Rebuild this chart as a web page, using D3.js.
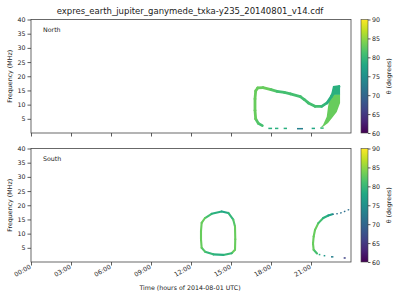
<!DOCTYPE html>
<html><head><meta charset="utf-8">
<script src="https://cdn.jsdelivr.net/npm/d3@7"></script>
<style>body{margin:0;background:#fff}svg{display:block}text{font-family:"DejaVu Sans",sans-serif;fill:#222}</style>
</head><body><svg id="c" width="400" height="300"></svg>
<script>
// ---- data ----
const title = "expres_earth_jupiter_ganymede_txka-y235_20140801_v14.cdf";
const xTickHours = [0,3,6,9,12,15,18,21];
const xTickLabels = ["00:00","03:00","06:00","09:00","12:00","15:00","18:00","21:00"];
const yTicks = [5,10,15,20,25,30,35,40];
const cbTicks = [60,65,70,75,80,85,90];

// North: main emission curve [hour, MHz, theta]
const northCurve = [
 [17.35,2.6,81],[17.05,3.4,82],[16.85,5.0,83],[16.8,8,83],[16.8,12,83],[16.85,14.8,83],
 [17.0,15.9,83],[17.4,16.0,83],[18.0,15.3,82],[18.45,14.7,81],[19.0,14.3,81],[19.45,13.8,81],
 [20.2,12.8,81],[20.5,11.8,81],[20.8,10.6,81],[21.3,9.4,81],[21.8,9.4,80],[22.2,10.6,79],
 [22.55,13.0,79],[22.9,15.5,79],[23.1,16.3,79]];
// North: thick crescent (upper teal part, lower green part)
const northWedgeTop = [[22.65,16.6],[23.18,16.9],[23.18,13.5],[22.5,13.5]];
const northWedgeBottom = [[22.48,13.7],[23.18,13.7],[23.18,10.6],[22.93,7.4],[22.65,5.75],[22.28,3.5],[21.9,2.2],[21.68,1.8],[21.9,2.8],[22.18,5.75],[22.28,9.3],[22.4,12.2]];
const northWedgeTheta = [79, 83];
// North: short low-frequency fragments [start h, end h, MHz, theta]
const northDashes = [[17.8,18.08,1.6,79],[18.3,18.55,1.6,79],[18.95,19.2,1.6,79],[19.95,20.4,1.5,73],[21.05,21.3,1.6,78],[21.7,21.95,1.7,80]];

// South: closed loop [hour, MHz, theta]
const southLoop = [
 [13.05,15.5,81],[13.55,17.0,79],[14.3,17.8,78],[14.8,17.3,80],[15.17,14.9,82],[15.3,12.5,83],
 [15.32,8,83],[15.3,4.3,83],[15.05,3.1,80],[14.42,2.5,79],[13.67,2.7,80],[13.05,3.65,82],
 [12.8,5,83],[12.75,8,83],[12.75,11,83],[12.8,13.8,83],[13.05,15.5,82]];
// South: late-day arc (solid part then dotted part)
const southArc = [[21.45,3.0,81],[21.2,4.3,83],[21.15,6.5,83],[21.2,9,83],[21.3,11.3,83],[21.55,13.7,81],[21.92,15.5,79],[22.3,16.4,77],[22.6,16.8,75]];
const southArcDotted = [[22.6,16.8],[22.93,17.0],[23.42,17.6],[23.95,18.7]];
const southArcDottedTheta = 71;
const southDashes = [[21.58,21.7,2.6,79],[21.95,22.07,2.2,76],[22.5,22.68,1.8,73],[23.45,23.6,1.4,66]];

// ---- drawing ----
const svg = d3.select("#c");
const x = d3.scaleLinear([0,24],[31,351]);
const panels = [
 {name:"North", y: d3.scaleLinear([0,40],[133,19.5]), labels:false},
 {name:"South", y: d3.scaleLinear([0,40],[262,148.5]), labels:true}
];
const cscale = d3.scaleSequential(d3.interpolateViridis).domain([60,90]);

svg.append("text").attr("x",190).attr("y",14).attr("text-anchor","middle").attr("font-size",8.5).text(title);

panels.forEach((p,i)=>{
  const y = p.y;
  const g = svg.append("g");
  const clip = "clip"+i;
  svg.append("clipPath").attr("id",clip).append("rect")
    .attr("x",x(0)).attr("y",y(40)).attr("width",x(24)-x(0)).attr("height",y(0)-y(40));
  const data = g.append("g").attr("clip-path",`url(#${clip})`);

  const segs = (pts, sw) => {
    for(let k=0;k<pts.length-1;k++){
      data.append("line").attr("x1",x(pts[k][0])).attr("y1",y(pts[k][1]))
        .attr("x2",x(pts[k+1][0])).attr("y2",y(pts[k+1][1]))
        .attr("stroke",cscale(pts[k][2])).attr("stroke-width",sw).attr("stroke-linecap","round");
    }
  };
  const dashes = (arr) => arr.forEach(d=>{
    data.append("rect").attr("x",x(d[0])).attr("y",y(d[2])-0.8).attr("width",x(d[1])-x(d[0])).attr("height",1.5).attr("fill",cscale(d[3]));
  });
  const poly = d3.line().x(d=>x(d[0])).y(d=>y(d[1])).curve(d3.curveLinearClosed);
  const line = d3.line().x(d=>x(d[0])).y(d=>y(d[1])).curve(d3.curveCatmullRom);

  if(i===0){
    data.append("path").attr("d",poly(northWedgeBottom)).attr("fill",cscale(northWedgeTheta[1]));
    data.append("path").attr("d",poly(northWedgeTop)).attr("fill",cscale(northWedgeTheta[0]));
    segs(northCurve,2.8);
    dashes(northDashes);
  } else {
    segs(southLoop,2.1);
    segs(southArc,2.1);
    data.append("path").attr("d",line(southArcDotted)).attr("fill","none")
      .attr("stroke",cscale(southArcDottedTheta)).attr("stroke-width",1.3).attr("stroke-dasharray","1.6,2.4");
    dashes(southDashes);
  }

  // axes
  const ya = g.append("g").attr("transform",`translate(${x(0)},0)`)
    .call(d3.axisLeft(y).tickValues(yTicks).tickSize(3.5).tickPadding(2));
  const xa = g.append("g").attr("transform",`translate(0,${y(0)})`)
    .call(d3.axisBottom(x).tickValues(xTickHours).tickSize(3.5).tickFormat((d,k)=>p.labels?xTickLabels[k]:""));
  [ya,xa].forEach(a=>{a.select(".domain").remove();a.selectAll("line").attr("stroke","#333").attr("stroke-width",0.8);a.selectAll("text").attr("font-size",6.3).attr("fill","#222");});
  if(p.labels){
    xa.selectAll("text").attr("text-anchor","end").attr("dy",0)
      .attr("transform","translate(0,6) rotate(-30)").attr("y",0).attr("x",0);
  }
  g.append("rect").attr("x",x(0)).attr("y",y(40)).attr("width",x(24)-x(0)).attr("height",y(0)-y(40))
    .attr("fill","none").attr("stroke","#444").attr("stroke-width",0.8);
  g.append("text").attr("x",43).attr("y",y(40)+12).attr("font-size",6.3).text(p.name);
  g.append("text").attr("transform",`translate(12,${(y(0)+y(40))/2}) rotate(-90)`).attr("text-anchor","middle").attr("font-size",6.3).text("Frequency (MHz)");

  // colorbar
  const cb = svg.append("g");
  const cy = d3.scaleLinear([60,90],[y(0),y(40)]);
  const gid = "grad"+i;
  const grad = svg.append("defs").append("linearGradient").attr("id",gid).attr("x1",0).attr("y1",1).attr("x2",0).attr("y2",0);
  d3.range(0,1.0001,0.1).forEach(t=>grad.append("stop").attr("offset",t).attr("stop-color",d3.interpolateViridis(t)));
  cb.append("rect").attr("x",361).attr("y",cy(90)).attr("width",7).attr("height",cy(60)-cy(90)).attr("fill",`url(#${gid})`).attr("stroke","#444").attr("stroke-width",0.6);
  const ca = cb.append("g").attr("transform","translate(368,0)").call(d3.axisRight(cy).tickValues(cbTicks).tickSize(2.5).tickPadding(1.5));
  ca.select(".domain").remove();
  ca.selectAll("line").attr("stroke","#333").attr("stroke-width",0.8);
  ca.selectAll("text").attr("font-size",6.3).attr("fill","#222");
  cb.append("text").attr("transform",`translate(391,${(cy(60)+cy(90))/2}) rotate(-90)`).attr("text-anchor","middle").attr("font-size",6.3).text("θ (degrees)");
});

svg.append("text").attr("x",190).attr("y",290).attr("text-anchor","middle").attr("font-size",6.3).text("Time (hours of 2014-08-01 UTC)");
</script></body></html>
